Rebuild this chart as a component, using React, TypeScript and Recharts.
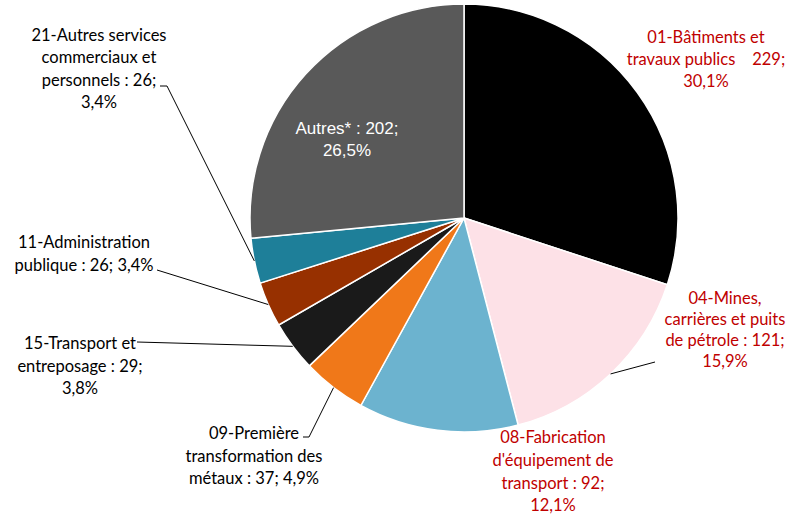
import React from 'react';
import { PieChart, Pie, Cell } from 'recharts';

const categories = [
  '01-Bâtiments et travaux publics',
  '04-Mines, carrières et puits de pétrole',
  "08-Fabrication d'équipement de transport",
  '09-Première transformation des métaux',
  '15-Transport et entreposage',
  '11-Administration publique',
  '21-Autres services commerciaux et personnels',
  'Autres*',
];
const values = [229, 121, 92, 37, 29, 26, 26, 202];
const percents = ['30,1%', '15,9%', '12,1%', '4,9%', '3,8%', '3,4%', '3,4%', '26,5%'];
const labelLines = [
  ['01-Bâtiments et', 'travaux publics    229;', '30,1%'],
  ['04-Mines,', 'carrières et puits', 'de pétrole : 121;', '15,9%'],
  ['08-Fabrication', "d'équipement de", 'transport : 92;', '12,1%'],
  ['09-Première', 'transformation des', 'métaux : 37; 4,9%'],
  ['15-Transport et', 'entreposage : 29;', '3,8%'],
  ['11-Administration', 'publique : 26; 3,4%'],
  ['21-Autres services', 'commerciaux et', 'personnels : 26;', '3,4%'],
  ['Autres* : 202;', '26,5%'],
];
const colors = ['#000000', '#FDE1E7', '#6CB3CF', '#F07819', '#1A1A1A', '#973000', '#1E7F99', '#595959'];

const data = categories.map((name, i) => ({ name, value: values[i], pct: percents[i] }));

// label layout: text centre x, line centre ys, colour, leader polyline (after the slice edge point)
const layout: { x: number; ys: number[]; color: string; font?: string; size?: number; leader?: number[][] }[] = [
  { x: 706, ys: [37, 59, 81], color: '#C00000' },
  { x: 725, ys: [298, 319, 340, 361], color: '#C00000', leader: [[655, 362]] },
  { x: 553, ys: [437, 460, 483, 505], color: '#C00000' },
  { x: 254, ys: [433, 456, 478], color: '#000000', leader: [[309, 437], [303, 437]] },
  { x: 80, ys: [343, 366, 388], color: '#000000', leader: [[137, 342]] },
  { x: 84, ys: [242, 265], color: '#000000', leader: [[157, 270]] },
  { x: 99, ys: [35, 57, 80, 102], color: '#000000', leader: [[167, 86], [160, 86]] },
  { x: 347, ys: [128, 150], color: '#FFFFFF', font: '"Liberation Sans", Arial, sans-serif', size: 17 },
];

const RAD = Math.PI / 180;

const renderLabel = (props: any) => {
  const { cx, cy, midAngle, outerRadius, index } = props;
  const L = layout[index];
  const ex = cx + outerRadius * Math.cos(-midAngle * RAD);
  const ey = cy + outerRadius * Math.sin(-midAngle * RAD);
  const pts = L.leader ? [[ex, ey], ...L.leader] : null;
  return (
    <g key={`lbl-${index}`}>
      {pts && (
        <polyline
          points={pts.map((p) => p.join(',')).join(' ')}
          fill="none"
          stroke="#000"
          strokeWidth={1}
        />
      )}
      <text
        textAnchor="middle"
        fill={L.color}
        fontFamily={L.font || 'Lato, "Open Sans", sans-serif'}
        fontSize={L.size || 16.5}
        style={{ whiteSpace: 'pre' }}
      >
        {labelLines[index].map((t, i) => (
          <tspan key={i} x={L.x} y={L.ys[i]} dominantBaseline="central">
            {t}
          </tspan>
        ))}
      </text>
    </g>
  );
};

export default function App() {
  return (
    <div style={{ position: 'absolute', left: 0, top: 0, width: 795, height: 514, background: '#fff' }}>
      <PieChart width={795} height={514} margin={{ top: 0, right: 0, bottom: 0, left: 0 }}>
        <Pie
          data={data}
          dataKey="value"
          nameKey="name"
          cx={464}
          cy={218}
          outerRadius={214}
          startAngle={90}
          endAngle={-270}
          stroke="#FFFFFF"
          strokeWidth={1.5}
          label={renderLabel}
          labelLine={false}
          isAnimationActive={false}
        >
          {data.map((d, i) => (
            <Cell key={d.name} fill={colors[i]} />
          ))}
        </Pie>
      </PieChart>
    </div>
  );
}
